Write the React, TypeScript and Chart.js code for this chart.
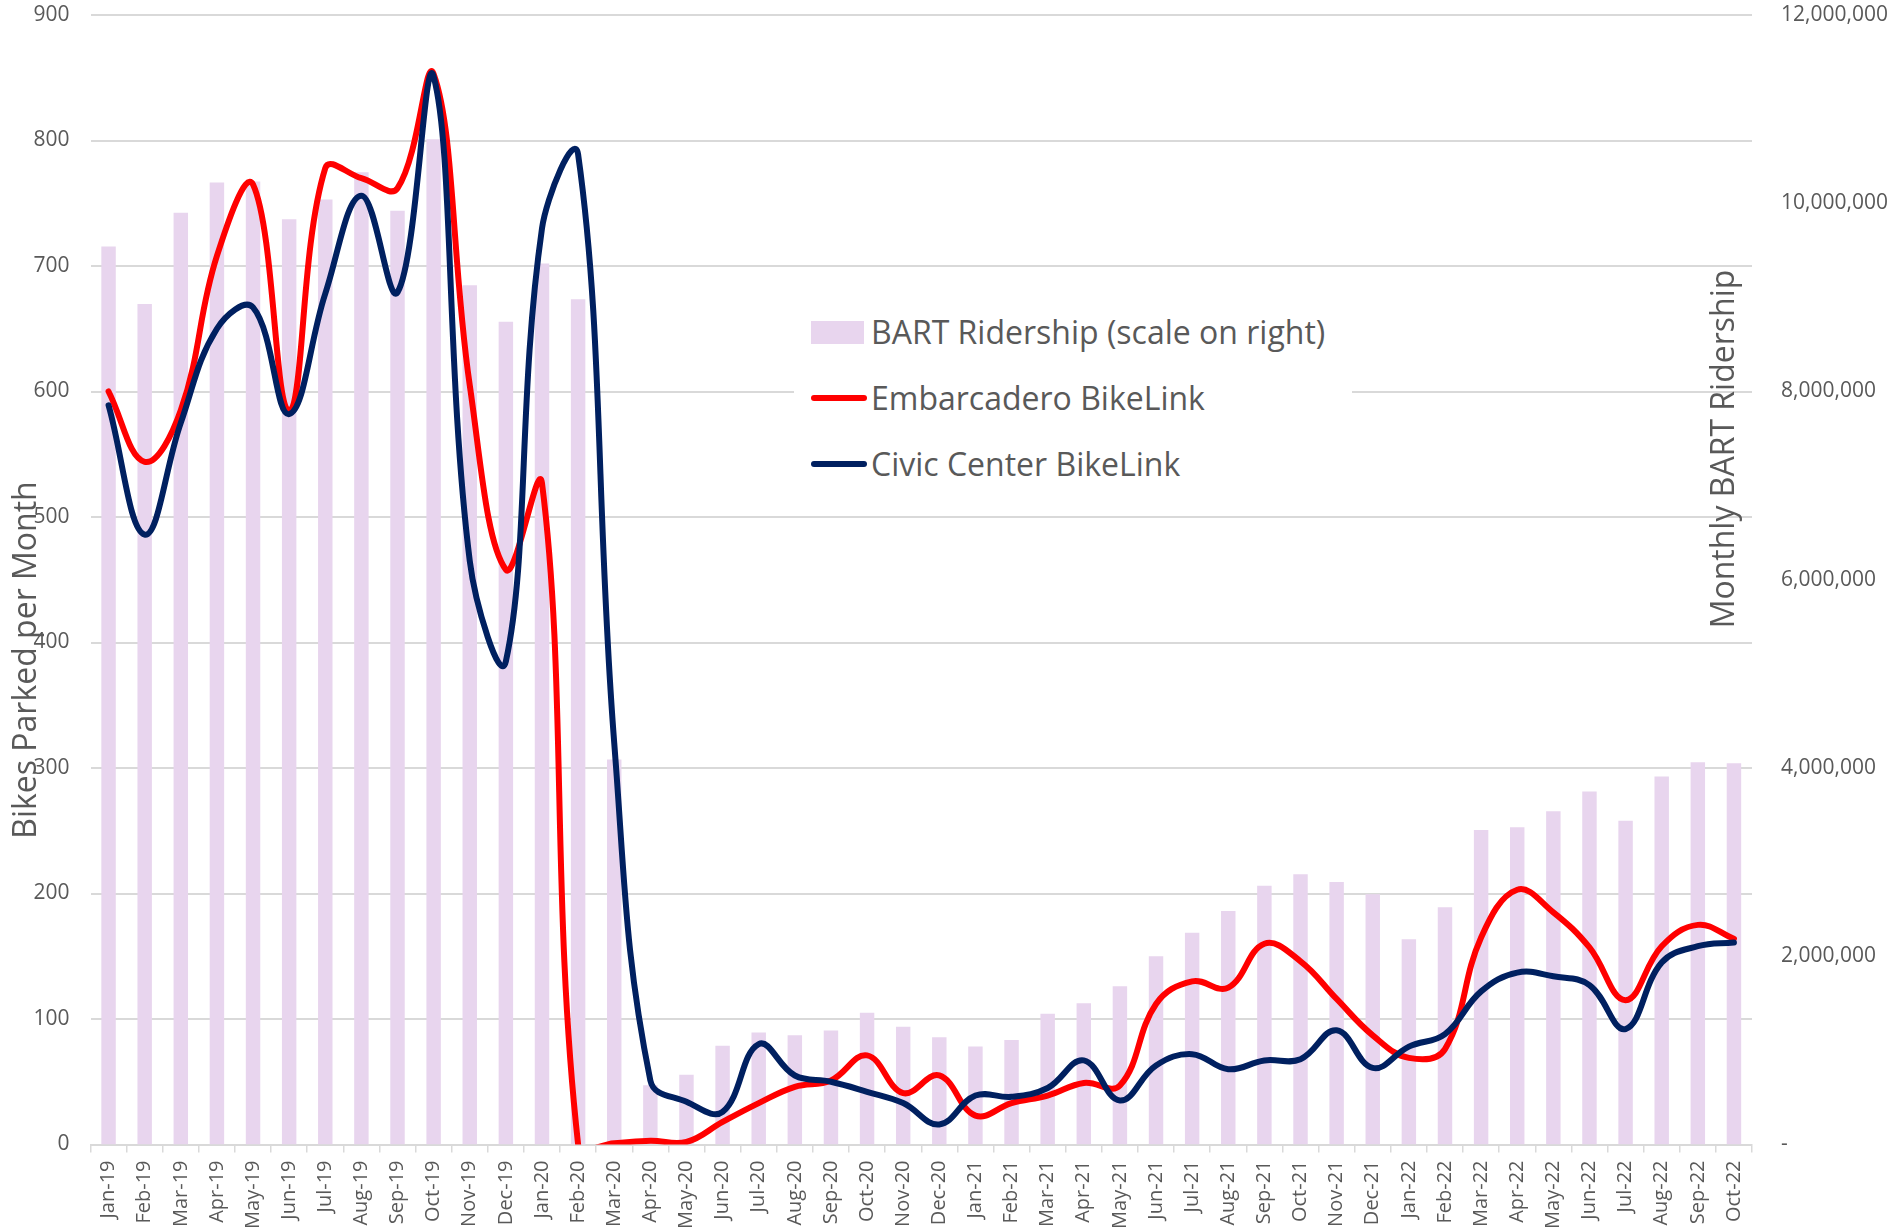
import React, { useEffect, useRef } from "react";
import { Chart, registerables } from "chart.js";

Chart.register(...registerables);

const categories = [
  "Jan-19", "Feb-19", "Mar-19", "Apr-19", "May-19", "Jun-19", "Jul-19", "Aug-19", "Sep-19", "Oct-19", "Nov-19", "Dec-19",
  "Jan-20", "Feb-20", "Mar-20", "Apr-20", "May-20", "Jun-20", "Jul-20", "Aug-20", "Sep-20", "Oct-20", "Nov-20", "Dec-20",
  "Jan-21", "Feb-21", "Mar-21", "Apr-21", "May-21", "Jun-21", "Jul-21", "Aug-21", "Sep-21", "Oct-21", "Nov-21", "Dec-21",
  "Jan-22", "Feb-22", "Mar-22", "Apr-22", "May-22", "Jun-22", "Jul-22", "Aug-22", "Sep-22", "Oct-22",
];

const bartRidership = [
  9540000, 8930000, 9900000, 10220000, 10230000, 9830000, 10040000, 10330000, 9920000, 10680000, 9130000, 8740000,
  9360000, 8980000, 4090000, 630000, 740000, 1050000, 1190000, 1160000, 1210000, 1400000, 1250000, 1140000,
  1040000, 1110000, 1390000, 1500000, 1680000, 2000000, 2250000, 2480000, 2750000, 2870000, 2790000, 2660000,
  2180000, 2520000, 3340000, 3370000, 3540000, 3750000, 3440000, 3910000, 4060000, 4050000,
];

const embarcadero = [
  600, 544, 585, 708, 765, 585, 778, 770, 762, 853, 605, 458,
  527, 0, 1, 3, 2, 18, 33, 46, 51, 71, 41, 55,
  23, 33, 39, 49, 47, 112, 130, 125, 160, 146, 116, 87,
  69, 76, 165, 203, 185, 157, 115, 158, 175, 164,
];

const civicCenter = [
  589, 486, 575, 650, 667, 582, 678, 756, 679, 851, 465, 385,
  730, 789, 320, 51, 34, 26, 80, 55, 50, 42, 33, 16,
  39, 38, 45, 67, 35, 63, 72, 60, 67, 68, 91, 61,
  78, 88, 122, 137, 134, 127, 92, 145, 158, 161,
];

const leftTicks = { min: 0, max: 900, step: 100 };
const rightTicks = { min: 0, max: 12000000, step: 2000000 };

const legendLabels = ["BART Ridership (scale on right)", "Embarcadero BikeLink", "Civic Center BikeLink"];
const leftTitle = "Bikes Parked per Month";
const rightTitle = "Monthly BART Ridership";

const FONT = '"Open Sans", "DejaVu Sans", sans-serif';
const TEXT = "#595959";
const GRID = "#D9D9D9";
const BAR = "#E8D5EE";
const RED = "#FF0000";
const NAVY = "#002060";

const titlesPlugin = {
  id: "axisTitles",
  afterDraw(chart: any) {
    const ctx = chart.ctx;
    const draw = (text: string, x: number, y: number) => {
      ctx.save();
      ctx.fillStyle = TEXT;
      ctx.font = `32px ${FONT}`;
      ctx.textAlign = "center";
      ctx.textBaseline = "middle";
      ctx.translate(x, y);
      ctx.rotate(-Math.PI / 2);
      ctx.fillText(text, 0, 0);
      ctx.restore();
    };
    draw(leftTitle, 27, 660);
    draw(rightTitle, 1725, 449);
  },
};

export default function App() {
  const ref = useRef<HTMLCanvasElement | null>(null);

  useEffect(() => {
    document.body.style.margin = "0";
    const canvas = ref.current;
    if (!canvas) return;
    const chart = new Chart(canvas, {
      type: "bar",
      data: {
        labels: categories,
        datasets: [
          {
            type: "line",
            label: legendLabels[2],
            data: civicCenter,
            yAxisID: "y",
            borderColor: NAVY,
            backgroundColor: NAVY,
            borderWidth: 6,
            pointRadius: 0,
            tension: 0.4,
            borderCapStyle: "round",
            borderJoinStyle: "round",
            order: 1,
            clip: 0,
          } as any,
          {
            type: "line",
            label: legendLabels[1],
            data: embarcadero,
            yAxisID: "y",
            borderColor: RED,
            backgroundColor: RED,
            borderWidth: 6,
            pointRadius: 0,
            tension: 0.4,
            borderCapStyle: "round",
            borderJoinStyle: "round",
            order: 2,
            clip: 0,
          } as any,
          {
            type: "bar",
            label: legendLabels[0],
            data: bartRidership,
            yAxisID: "y1",
            backgroundColor: BAR,
            barPercentage: 0.4,
            categoryPercentage: 1,
            order: 3,
          } as any,
        ],
      },
      options: {
        animation: false,
        responsive: false,
        maintainAspectRatio: false,
        layout: { padding: { top: 15, left: 0, right: 0, bottom: 0 } },
        elements: { line: { capBezierPoints: false } },
        plugins: {
          legend: { display: false },
          tooltip: { enabled: false },
        },
        scales: {
          x: {
            offset: true,
            grid: {
              display: true,
              offset: true,
              drawOnChartArea: false,
              drawTicks: true,
              tickLength: 8,
              color: GRID,
              lineWidth: 1.5,
            },
            border: { display: true, color: GRID, width: 2 },
            ticks: {
              autoSkip: false,
              maxRotation: 90,
              minRotation: 90,
              padding: 8,
              color: TEXT,
              font: { size: 20, family: FONT },
            },
            afterFit: (s: any) => {
              s.height = 87.5;
              s.paddingLeft = 0;
              s.paddingRight = 0;
            },
          },
          y: {
            position: "left",
            min: leftTicks.min,
            max: leftTicks.max,
            ticks: {
              stepSize: leftTicks.step,
              padding: 21,
              color: TEXT,
              font: { size: 21, family: FONT },
            },
            grid: { color: GRID, lineWidth: 2, drawTicks: false },
            border: { display: false },
            afterFit: (s: any) => {
              s.width = 90.5;
              s.paddingTop = 0;
              s.paddingBottom = 0;
            },
          },
          y1: {
            position: "right",
            min: rightTicks.min,
            max: rightTicks.max,
            ticks: {
              stepSize: rightTicks.step,
              padding: 29,
              color: TEXT,
              font: { size: 21, family: FONT },
              callback: (v: any) => (Number(v) === 0 ? "-" : Number(v).toLocaleString("en-US")),
            },
            grid: { display: false, drawTicks: false },
            border: { display: false },
            afterFit: (s: any) => {
              s.width = 141;
              s.paddingTop = 0;
              s.paddingBottom = 0;
            },
          },
        },
      } as any,
      plugins: [titlesPlugin],
    });
    return () => chart.destroy();
  }, []);

  const legendText: React.CSSProperties = {
    position: "absolute",
    fontFamily: FONT,
    fontSize: 32,
    color: TEXT,
    lineHeight: "40px",
    whiteSpace: "nowrap",
  };

  return (
    <div style={{ position: "relative", width: 1893, height: 1232, background: "#fff", overflow: "hidden" }}>
      <canvas ref={ref} width={1893} height={1232} style={{ position: "absolute", left: 0, top: 0, width: 1893, height: 1232 }} />
      <div style={{ position: "absolute", left: 794, top: 300, width: 558, height: 190, background: "#fff" }}>
        <div style={{ position: "absolute", left: 17, top: 21, width: 53, height: 23, background: BAR }} />
        <div style={{ ...legendText, left: 77, top: 12 }}>{legendLabels[0]}</div>
        <div style={{ position: "absolute", left: 17, top: 95, width: 56, height: 6, background: RED, borderRadius: 3 }} />
        <div style={{ ...legendText, left: 77, top: 78 }}>{legendLabels[1]}</div>
        <div style={{ position: "absolute", left: 17, top: 161, width: 56, height: 6, background: NAVY, borderRadius: 3 }} />
        <div style={{ ...legendText, left: 77, top: 144 }}>{legendLabels[2]}</div>
      </div>
    </div>
  );
}
